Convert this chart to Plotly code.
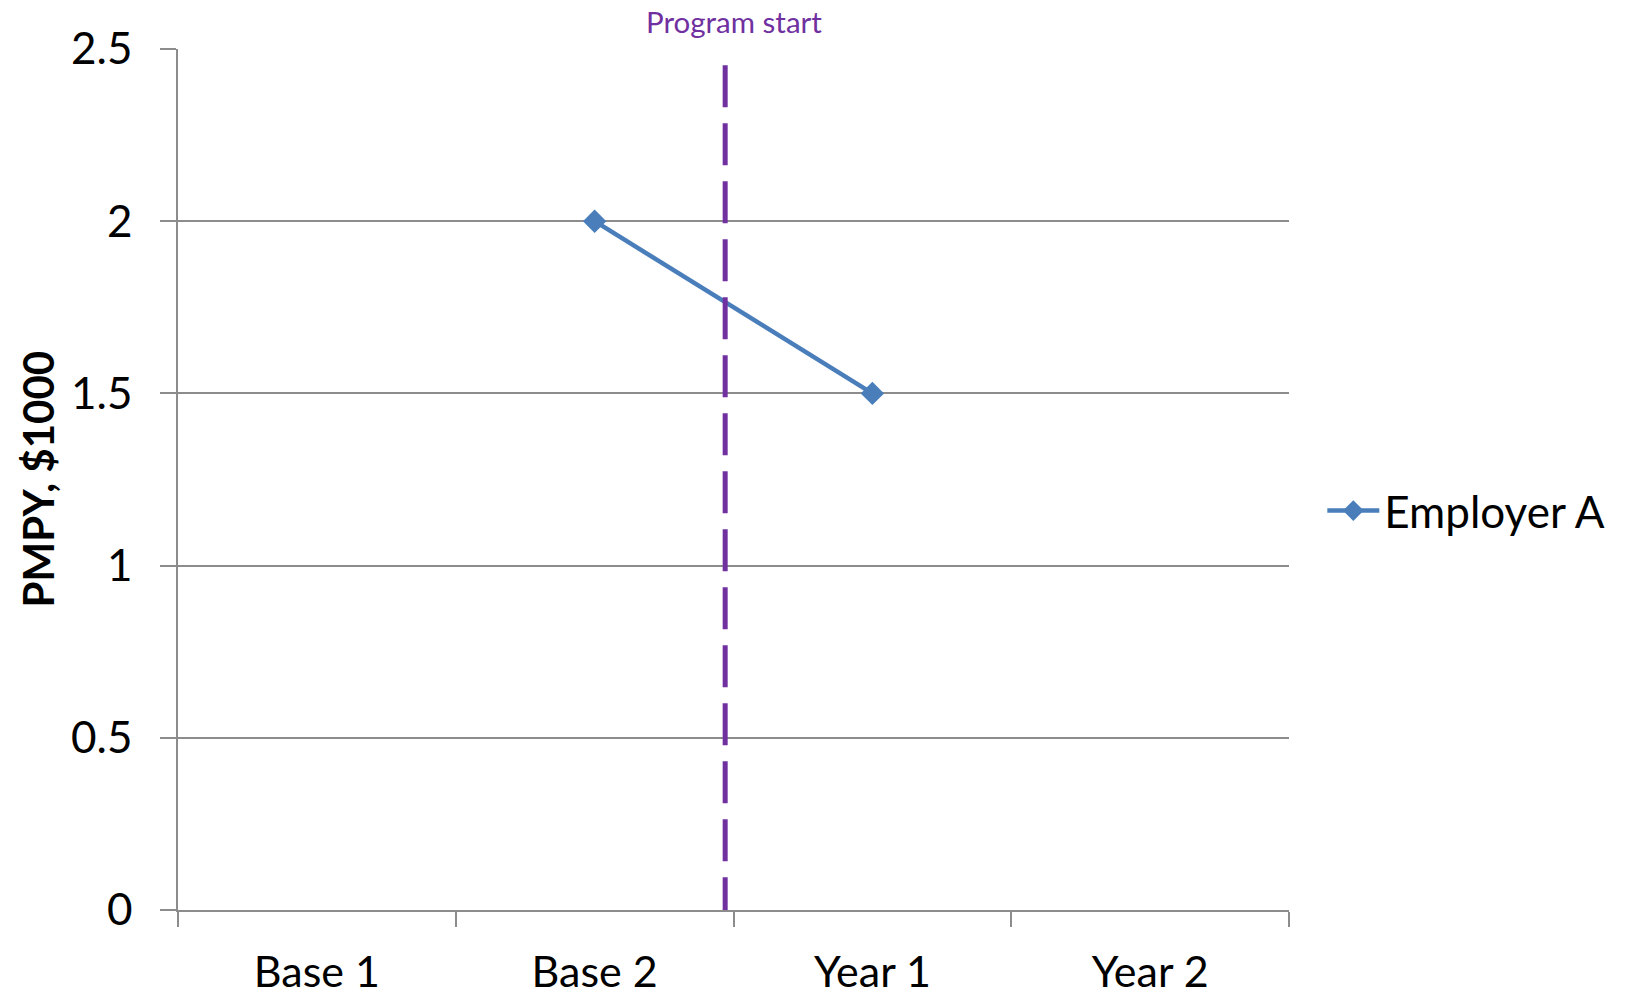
import plotly.graph_objects as go

categories = ["Base 1", "Base 2", "Year 1", "Year 2"]
employer_a = [None, 2.0, 1.5, None]
y_ticks = [0, 0.5, 1, 1.5, 2, 2.5]
y_tick_labels = ["0", "0.5", "1", "1.5", "2", "2.5"]
program_start_x = 1.47
series_name = "Employer A"
y_title = "PMPY, $1000"
program_label = "Program start"

FONT = "Lato, 'Open Sans', sans-serif"
GRID = "#8c8c8c"
BLUE = "#4a7ebb"
PURPLE = "#7030a0"

fig = go.Figure()
fig.add_trace(go.Scatter(
    x=categories, y=employer_a, mode="lines+markers", name=series_name,
    line=dict(color=BLUE, width=4.5),
    marker=dict(symbol="diamond", size=18, color=BLUE),
    connectgaps=False,
))

fig.add_shape(type="line", xref="x", yref="y",
              x0=program_start_x, x1=program_start_x, y0=-0.027, y1=2.46,
              line=dict(color=PURPLE, width=5, dash="42px,16px"))

fig.add_annotation(x=1.5, xref="x", y=1 + (49 - 21) / 861, yref="paper", yanchor="middle",
                   text=program_label, showarrow=False,
                   font=dict(family=FONT, size=29.5, color=PURPLE))

fig.add_annotation(x=(37 - 178) / 1111, xref="paper", y=0.5, yref="paper",
                   text="<b>" + y_title + "</b>", textangle=-90, showarrow=False,
                   xanchor="center", yanchor="middle",
                   font=dict(family=FONT, size=42, color="#000000"))

fig.update_layout(
    width=1631, height=996,
    margin=dict(l=178, r=342, t=49, b=86),
    paper_bgcolor="white", plot_bgcolor="white",
    font=dict(family=FONT, color="#000000"),
    showlegend=True,
    legend=dict(x=1.03, xanchor="left", y=(910 - 511) / 861, yanchor="middle",
                font=dict(family=FONT, size=44, color="#000000"),
                itemwidth=52, bgcolor="rgba(0,0,0,0)"),
    xaxis=dict(
        type="category", range=[-0.5, 3.5], automargin=False,
        showline=True, linecolor=GRID, linewidth=1.5,
        ticks="outside", tickson="boundaries", ticklen=15, tickcolor=GRID, tickwidth=1.5,
        showgrid=False, tickfont=dict(family=FONT, size=43, color="#000000"),
        ticklabelstandoff=24, mirror=False,
    ),
    yaxis=dict(
        range=[0, 2.5], tickvals=y_ticks, ticktext=y_tick_labels, automargin=False,
        showline=True, linecolor=GRID, linewidth=1.5,
        ticks="outside", ticklen=16, tickcolor=GRID, tickwidth=1.5,
        showgrid=True, gridcolor=GRID, gridwidth=1.5,
        zeroline=False,
        tickfont=dict(family=FONT, size=44, color="#000000"),
        ticklabelstandoff=19,
    ),
)

fig.write_html("out.html")
